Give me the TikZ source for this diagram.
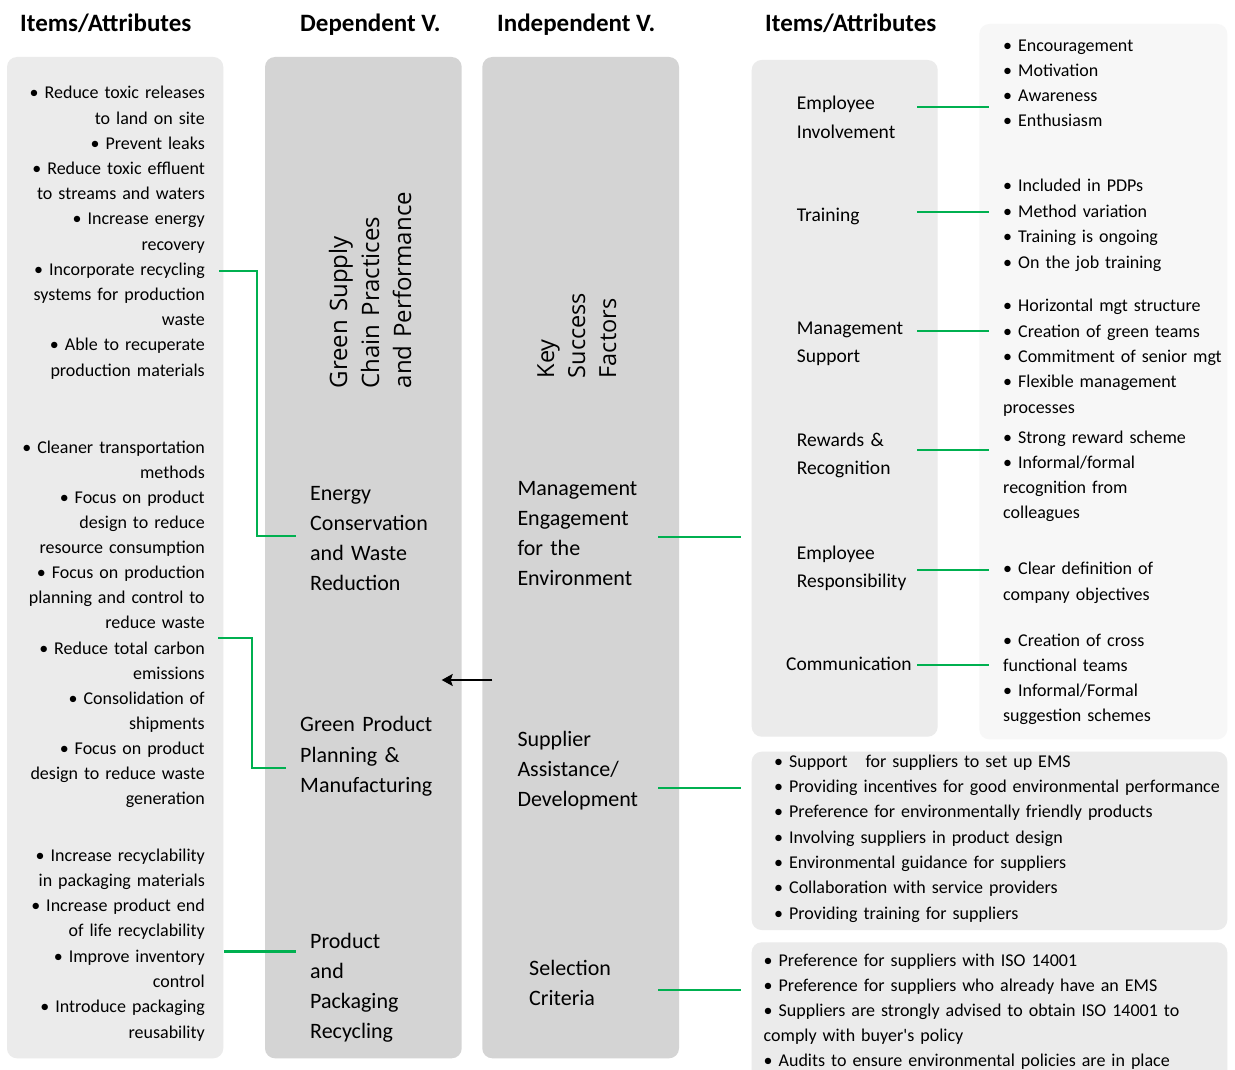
\documentclass[tikz,border=0pt]{standalone}
\usepackage{fontspec}
\setmainfont{Carlito}
\newfontfamily\rotfont{Open Sans}
\usetikzlibrary{arrows.meta}

\definecolor{panelLight}{RGB}{235,235,235}
\definecolor{panelDark}{RGB}{212,212,212}
\definecolor{panelPale}{RGB}{247,247,247}
\definecolor{linkGreen}{RGB}{0,176,80}

\begin{document}
\begin{tikzpicture}[x=1pt,y=-1pt,
  panel/.style={rounded corners=10pt},
  header/.style={font=\fontsize{25}{30}\selectfont\bfseries, anchor=base west, inner sep=0pt},
  leftlist/.style={font=\fontsize{18}{25.2}\selectfont, align=right, text width=210pt, anchor=base east, inner sep=0pt},
  itemlist/.style={font=\fontsize{18}{25.3}\selectfont, align=left, text width=240pt, anchor=base west, inner sep=0pt},
  widelist/.style={font=\fontsize{18}{25.3}\selectfont, align=left, text width=460pt, anchor=base west, inner sep=0pt},
  factor/.style={font=\fontsize{22}{30}\selectfont, align=left, text width=150pt, anchor=base west, inner sep=0pt},
  driver/.style={font=\fontsize{19.5}{28.5}\selectfont, align=left, text width=150pt, anchor=base west, inner sep=0pt},
  rotlabel/.style={font=\rotfont\fontsize{24}{32}\selectfont, rotate=90, align=left, text width=260pt, anchor=base west, inner sep=0pt},
  link/.style={draw=linkGreen, line width=2pt},
  flow/.style={draw=black, line width=2pt, -{Stealth[length=11pt,width=12pt,inset=2pt]}}
]
\useasboundingbox (0,0) rectangle (1235,1070);
\fill[white] (0,0) rectangle (1235,1070);

% column panels
\fill[panelLight, panel] (7,57) rectangle (223.3,1058.3);
\fill[panelDark, panel] (265,57) rectangle (461.7,1058.3);
\fill[panelDark, panel] (482.3,57) rectangle (679,1058.3);
\fill[panelLight, panel] (751.7,60) rectangle (937.7,736.7);
\fill[panelPale, panel] (979.3,24) rectangle (1227.3,739.3);
\fill[panelLight, panel] (751.7,751.7) rectangle (1227.3,930);
\fill[panelLight, panel] (751.7,942.3) rectangle (1227.3,1100);

% column headers
\node[header] (hItemsL) at (20,32) {Items/Attributes};
\node[header] (hDep) at (300,32) {Dependent V.};
\node[header] (hIndep) at (497,32) {Independent V.};
\node[header] (hItemsR) at (765,32) {Items/Attributes};

% left attribute lists
\node[leftlist] (lstEnergy) at (205,99) {• Reduce toxic releases\\to land on site\\• Prevent leaks\\• Reduce toxic effluent\\to streams and waters\\• Increase energy\\recovery\\• Incorporate recycling\\systems for production\\waste\\• Able to recuperate\\production materials};
\node[leftlist, font=\fontsize{18}{25.14}\selectfont] (lstGreen) at (205,453) {• Cleaner transportation\\methods\\• Focus on product\\design to reduce\\resource consumption\\• Focus on production\\planning and control to\\reduce waste\\• Reduce total carbon\\emissions\\• Consolidation of\\shipments\\• Focus on product\\design to reduce waste\\generation};
\node[leftlist, font=\fontsize{18}{25.3}\selectfont] (lstPack) at (205,861) {• Increase recyclability\\in packaging materials\\• Increase product end\\of life recyclability\\• Improve inventory\\control\\• Introduce packaging\\reusability};

% dependent variable
\node[rotlabel] (gscp) at (347,388.5) {Green Supply\\Chain Practices\\and Performance};
\node[factor] (energy) at (310,500) {Energy\\Conservation\\and Waste\\Reduction};
\node[factor, font=\fontsize{22}{30.3}\selectfont] (gppm) at (300,731.7) {Green Product\\Planning \&\\Manufacturing};
\node[factor] (ppr) at (310,948.3) {Product\\and\\Packaging\\Recycling};

% independent variable
\node[rotlabel, font=\rotfont\fontsize{23.5}{31}\selectfont] (ksf) at (554,378.5) {Key\\Success\\Factors};
\node[factor] (meng) at (517.3,495) {Management\\Engagement\\for the\\Environment};
\node[factor] (supp) at (517.3,746) {Supplier\\Assistance/\\Development};
\node[factor] (sel) at (529,975) {Selection\\Criteria};

% management engagement drivers
\node[driver] (empInv) at (796.7,110) {Employee\\Involvement};
\node[driver] (train) at (796.7,221.7) {Training};
\node[driver] (mgmt) at (796.7,334) {Management\\Support};
\node[driver] (reward) at (796.7,446) {Rewards \&\\Recognition};
\node[driver] (empResp) at (796.7,559.3) {Employee\\Responsibility};
\node[driver] (comm) at (786,670.7) {Communication};

% driver attributes
\node[itemlist, font=\fontsize{18}{25}\selectfont] (atEI) at (1003,51.7) {• Encouragement\\• Motivation\\• Awareness\\• Enthusiasm};
\node[itemlist, font=\fontsize{18}{25.5}\selectfont] (atTR) at (1003,191.7) {• Included in PDPs\\• Method variation\\• Training is ongoing\\• On the job training};
\node[itemlist, font=\fontsize{18}{25.4}\selectfont] (atMS) at (1003,311.7) {• Horizontal mgt structure\\• Creation of green teams\\• Commitment of senior mgt\\• Flexible management\\processes};
\node[itemlist, font=\fontsize{18}{25}\selectfont] (atRR) at (1003,443.3) {• Strong reward scheme\\• Informal/formal\\recognition from\\colleagues};
\node[itemlist, font=\fontsize{18}{26}\selectfont] (atER) at (1003,574) {• Clear definition of\\company objectives};
\node[itemlist, font=\fontsize{18}{25}\selectfont] (atCO) at (1003,646) {• Creation of cross\\functional teams\\• Informal/Formal\\suggestion schemes};

% supplier and selection attributes
\node[widelist, font=\fontsize{18}{25.33}\selectfont] (atSA) at (774,767.3) {• Support~~~for suppliers to set up EMS\\• Providing incentives for good environmental performance\\• Preference for environmentally friendly products\\• Involving suppliers in product design\\• Environmental guidance for suppliers\\• Collaboration with service providers\\• Providing training for suppliers};
\node[widelist, font=\fontsize{18}{25}\selectfont] (atSC) at (763.5,966.7) {• Preference for suppliers with ISO 14001\\• Preference for suppliers who already have an EMS\\• Suppliers are strongly advised to obtain ISO 14001 to\\comply with buyer\textquotesingle s policy\\• Audits to ensure environmental policies are in place};

% connectors: left attributes to dependent factors
\coordinate (lkEa) at (219,271);
\coordinate (lkEb) at (296,536);
\draw[link] (lkEa) -- ++(38,0) |- (lkEb);
\coordinate (lkGa) at (218,638);
\coordinate (lkGb) at (286,768);
\draw[link] (lkGa) -- ++(34,0) |- (lkGb);
\coordinate (lkPa) at (224,951);
\coordinate (lkPb) at (296,951);
\draw[link, line width=3pt] (lkPa) -- (lkPb);

% key success factors drive the dependent variable
\coordinate (flowA) at (492.3,680);
\coordinate (flowB) at (441.7,680);
\draw[flow] (flowA) -- (flowB);

% connectors: independent factors to their attributes
\foreach \n/\yy in {meL/537, saL/788, scL/990}{
  \coordinate (\n a) at (658,\yy);
  \coordinate (\n b) at (741,\yy);
  \draw[link] (\n a) -- (\n b);
}

% connectors: drivers to their attributes
\foreach \n/\yy in {ei/107, tr/212, ms/331, rr/450, er/570, co/665}{
  \coordinate (\n a) at (917,\yy);
  \coordinate (\n b) at (989,\yy);
  \draw[link] (\n a) -- (\n b);
}
\end{tikzpicture}
\end{document}
